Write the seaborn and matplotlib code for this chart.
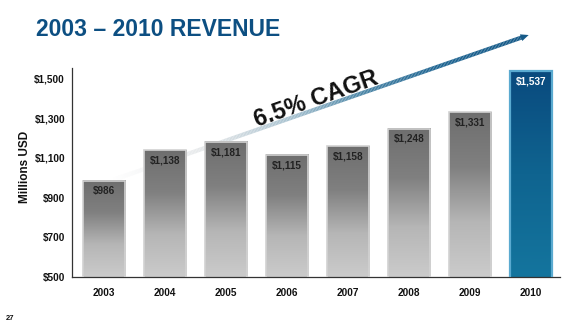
import numpy as np
import pandas as pd
import seaborn as sns
import matplotlib
matplotlib.use("Agg")
import matplotlib.pyplot as plt
from matplotlib.colors import LinearSegmentedColormap
from matplotlib.collections import LineCollection
from matplotlib.patches import Polygon

# Revenue by year (millions USD)
years = ["2003", "2004", "2005", "2006", "2007", "2008", "2009", "2010"]
revenue = [986, 1138, 1181, 1115, 1158, 1248, 1331, 1537]
value_labels = ["$986", "$1,138", "$1,181", "$1,115", "$1,158", "$1,248", "$1,331", "$1,537"]
y_ticks = [500, 700, 900, 1100, 1300, 1500]
y_tick_labels = ["$500", "$700", "$900", "$1,100", "$1,300", "$1,500"]
highlight_year = "2010"

sns.set_theme(style="white")
plt.rcParams["font.family"] = ["Liberation Sans", "DejaVu Sans"]
plt.rcParams["font.weight"] = "bold"

W, H = 581, 326
fig = plt.figure(figsize=(W / 100, H / 100), dpi=100)
ax = fig.add_axes([72 / W, 1 - 277 / H, (560 - 72) / W, (277 - 68) / H])

df = pd.DataFrame({"year": years, "revenue": revenue})
sns.barplot(data=df, x="year", y="revenue", ax=ax, width=0.69,
            color="#999999", zorder=2)

ymin, ymax = 500, 1553
xlim = (-0.52, 7.48)

gray_cmap = LinearSegmentedColormap.from_list("g", ["#cbcbcb", "#b6b6b6", "#808080", "#6e6e6e"])
blue_cmap = LinearSegmentedColormap.from_list("b", ["#14759e", "#0f6490", "#0a4a7e"])
grad = np.linspace(0, 1, 256).reshape(-1, 1)

for p, yr, lab in zip(ax.patches, years, value_labels):
    x0, w = p.get_x(), p.get_width()
    top = p.get_y() + p.get_height()
    hl = yr == highlight_year
    ax.imshow(grad, cmap=blue_cmap if hl else gray_cmap, origin="lower",
              extent=(x0, x0 + w, ymin, top), aspect="auto", zorder=2,
              interpolation="bilinear")
    p.set_facecolor("none")
    p.set_edgecolor("#5aaad0" if hl else "#d2d2d2")
    p.set_linewidth(1.6 if hl else 1.2)
    p.set_zorder(3)
    ax.annotate(lab, (x0 + w / 2, top), xytext=(0, -7.5), textcoords="offset points",
                ha="center", va="center", fontsize=7.2, fontweight="bold",
                color="white" if hl else "#222222", zorder=4)

ax.set_xlim(*xlim)
ax.set_ylim(ymin, ymax)
ax.set_yticks(y_ticks, labels=y_tick_labels)
ax.set_xlabel("")
ax.set_ylabel("")
ax.tick_params(axis="both", length=0, labelsize=7.2, colors="#111111")
ax.tick_params(axis="y", pad=5)
ax.tick_params(axis="x", pad=8)
for t in ax.get_xticklabels() + ax.get_yticklabels():
    t.set_fontweight("bold")
for side in ["top", "right"]:
    ax.spines[side].set_visible(False)
for side in ["left", "bottom"]:
    ax.spines[side].set_color("#333333")
    ax.spines[side].set_linewidth(0.9)

# Growth arrow behind the bars, fading in from the left
p0 = np.array([110.0, 181.0])
p1 = np.array([523.0, 37.0])
n = 300
t = np.linspace(0, 1, n + 1)
pts = p0[None, :] + t[:, None] * (p1 - p0)[None, :]
pts_fig = np.column_stack([pts[:, 0] / W, 1 - pts[:, 1] / H])
segs = np.stack([pts_fig[:-1], pts_fig[1:]], axis=1)
arrow_cmap = LinearSegmentedColormap.from_list(
    "a", [(0.0, "#ffffff"), (0.25, "#e3e6e8"), (0.45, "#a3bfce"),
          (0.6, "#4f88a8"), (0.8, "#1f6592"), (1.0, "#165a88")])
lc = LineCollection(segs, colors=arrow_cmap(t[:-1]), linewidths=3.0,
                    transform=fig.transFigure, zorder=1, clip_on=False,
                    capstyle="butt")
ax.add_collection(lc, autolim=False)

d = (p1 - p0) / np.linalg.norm(p1 - p0)
nrm = np.array([-d[1], d[0]])
tip = p1 + d * 6
base = p1 - d * 2
head = np.array([tip, base + nrm * 3.5, base - nrm * 3.5])
head_fig = np.column_stack([head[:, 0] / W, 1 - head[:, 1] / H])
fig.patches.append(Polygon(head_fig, closed=True, transform=fig.transFigure,
                           facecolor="#165a88", edgecolor="none"))

fig.text(316 / W, 1 - 99 / H, "6.5% CAGR", rotation=19.5, rotation_mode="anchor",
         ha="center", va="center", fontsize=17, fontweight="bold", color="#111111")

fig.text(36 / W, 1 - 30 / H, "2003 \u2013 2010 REVENUE", ha="left", va="center",
         fontsize=16.5, fontweight="bold", color="#0d4f82")
fig.text(25 / W, 1 - 167 / H, "Millions USD", rotation=90, ha="center", va="center",
         fontsize=8.5, fontweight="bold", color="#111111")
fig.text(6 / W, 1 - 318 / H, "27", ha="left", va="center", fontsize=5.5,
         fontweight="bold", color="#111111")

fig.savefig("out.png", dpi=100)
